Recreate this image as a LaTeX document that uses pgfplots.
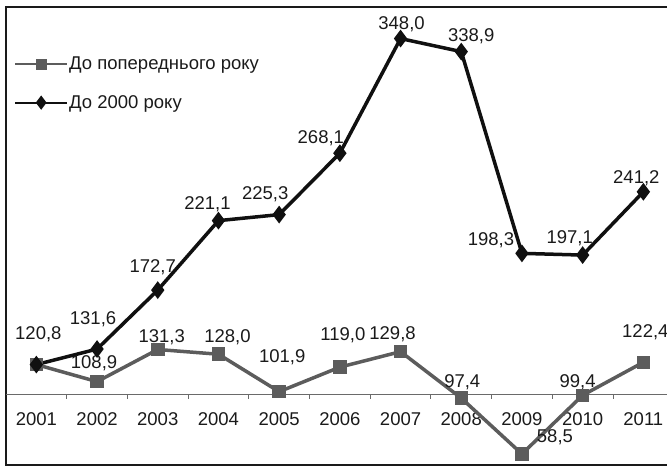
\documentclass[border=0pt]{standalone}
\usepackage{fontspec}
\setmainfont{Liberation Sans}
\usepackage{pgfplots}
\usepackage{pgfplotstable}
\pgfplotsset{compat=1.18}

\definecolor{prevcol}{HTML}{5C5C5C}
\definecolor{basecol}{HTML}{101010}
\definecolor{txtcol}{HTML}{1A1A1A}
\definecolor{axcol}{HTML}{6A6A6A}

% index, value, label offset (x, y) in pt
\pgfplotstableread{
x y lx ly
0 120.8 2 30
1 108.9 -3 18
2 131.3 4 12
3 128.0 9 17
4 101.9 3 34
5 119.0 3 32
6 129.8 -8 17
7 97.4 1 16
8 58.5 33 17
9 99.4 -5 13
10 122.4 2 30
}\prevyear

\pgfplotstableread{
x y lx ly
0 120.8 2 30
1 131.6 -4 30
2 172.7 -5 23
3 221.1 -11 16
4 225.3 -14 20
5 268.1 -19 15
6 348.0 1 14
7 338.9 10 15
8 198.3 -31 13
9 197.1 -13 17
10 241.2 -7 14
}\baseyear

\newcommand\lblfont{\fontsize{18.5}{21}\selectfont}

% value labels for rows #2..10 of table #1
\newcommand\valuelabels[2]{%
  \pgfplotsforeachungrouped \i in {#2,...,10}{%
    \pgfplotstablegetelem{\i}{x}\of#1\let\vx\pgfplotsretval
    \pgfplotstablegetelem{\i}{y}\of#1\let\vy\pgfplotsretval
    \pgfplotstablegetelem{\i}{lx}\of#1\let\dx\pgfplotsretval
    \pgfplotstablegetelem{\i}{ly}\of#1\let\dy\pgfplotsretval
    \edef\next{\noexpand\node[vlbl, xshift=\dx pt, yshift=\dy pt]
      at (axis cs:\vx,\vy) {\noexpand\pgfmathprintnumber[fixed, fixed zerofill,
        precision=1, use comma, assume math mode=true]{\vy}};}%
    \next
  }%
}

\begin{document}
\begin{tikzpicture}[
  vlbl/.style={anchor=center, font=\lblfont, text=txtcol, inner sep=0pt}]
\begin{axis}[
  at={(6pt,4pt)}, anchor=south west,
  scale only axis, width=667.7pt, height=458pt,
  xmin=-0.5, xmax=10.5, ymin=50.8, ymax=370,
  axis line style={txtcol, line width=2pt},
  ytick=\empty,
  xtick={0,...,10},
  xticklabels={2001,2002,2003,2004,2005,2006,2007,2008,2009,2010,2011},
  major tick length=0pt,
  xticklabel style={anchor=center, yshift=46pt, font=\lblfont, text=txtcol},
  clip=false,
  legend cell align=left,
  legend image code/.code={%
    \draw[mark repeat=2, mark phase=2]
      plot coordinates {(0pt,0pt) (26pt,0pt) (52pt,0pt)};},
  legend style={at={(axis description cs:0,1)}, anchor=north west,
    xshift=8pt, yshift=-49pt, draw=none, fill=none, font=\lblfont,
    row sep=22pt, inner sep=0pt, nodes={inner sep=1pt, text=txtcol}},
]
% baseline at 100 with dividers between the years
\draw[axcol, line width=1pt] (axis cs:-0.5,100) -- (axis cs:10.5,100);
\pgfplotsinvokeforeach{0.5,1.5,...,9.5}{
  \draw[axcol, line width=1pt] (axis cs:#1,100) -- ++(0pt,-5pt);
}

\addlegendimage{prevcol, line width=2pt, mark=square*, mark size=4.5pt, mark options={solid}}
\addlegendentry{До попереднього року}
\addlegendimage{basecol, line width=2pt, mark=diamond*, mark size=5.5pt, mark options={solid}}
\addlegendentry{До 2000 року}

\addplot[prevcol, line width=3.5pt, mark=square*, mark size=5pt,
  mark options={solid}, forget plot]
  table[x=x, y=y] {\prevyear};

\addplot[basecol, line width=3.5pt, mark=diamond*, mark size=6pt,
  mark options={solid}, forget plot]
  table[x=x, y=y] {\baseyear};

% both series start at 120,8: that value is labelled once
\valuelabels{\prevyear}{1}
\valuelabels{\baseyear}{0}
\end{axis}
\pgfresetboundingbox
\path[use as bounding box] (0pt,0pt) rectangle (667pt,469pt);
\end{tikzpicture}
\end{document}
